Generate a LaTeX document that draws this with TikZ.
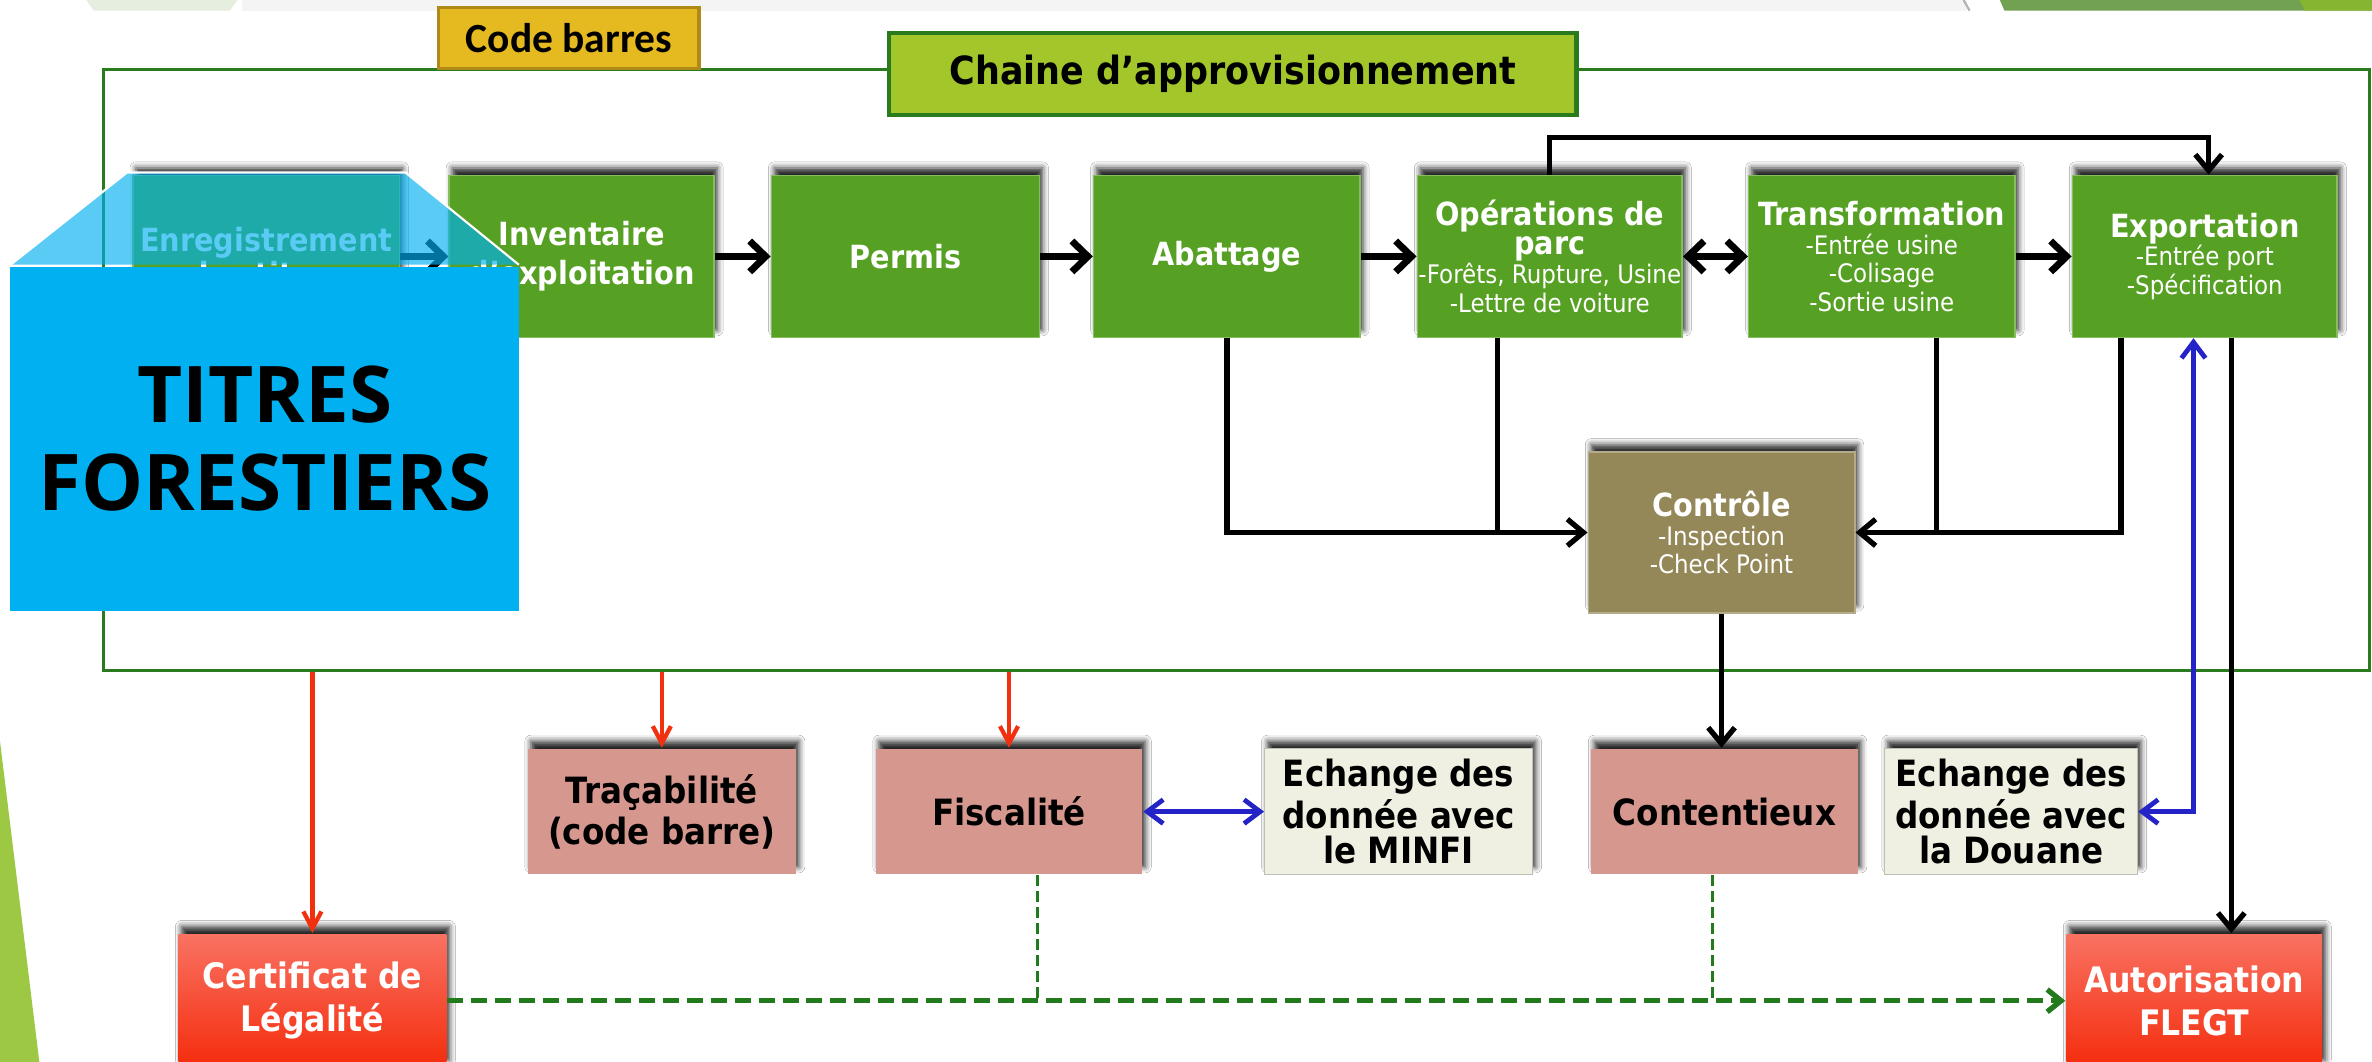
\documentclass[tikz,border=0pt]{standalone}
\usepackage{fontspec}
\setmainfont{DejaVu Sans}
\newfontfamily\ag[FakeStretch=0.9]{DejaVu Sans}
\newfontfamily\osf{Open Sans}
\newfontfamily\calf{Carlito}
\usetikzlibrary{arrows.meta,shadows.blur,calc}
\definecolor{cGreen}{HTML}{56A024}
\definecolor{cGreenEdge}{HTML}{86BD5E}
\definecolor{cFrame}{HTML}{2A7A1E}
\definecolor{cChaine}{HTML}{A3C72A}
\definecolor{cGold}{HTML}{E5B920}
\definecolor{cGoldEdge}{HTML}{B08A18}
\definecolor{cCtrl}{HTML}{948758}
\definecolor{cPink}{HTML}{D6978F}
\definecolor{cCream}{HTML}{EFEFE2}
\definecolor{cRedTop}{HTML}{F97262}
\definecolor{cRedBot}{HTML}{F42C0C}
\definecolor{cBlue}{HTML}{2323C8}
\definecolor{cRed}{HTML}{F0300F}
\definecolor{cDash}{HTML}{237A1C}
\definecolor{cTitres}{HTML}{00B0F0}
\definecolor{cLime}{HTML}{9DC843}
\definecolor{cTopGreen}{HTML}{73A152}
\definecolor{cTopLime}{HTML}{86B52F}
\definecolor{cTopPale}{HTML}{E6EFDF}
\definecolor{cTopGray}{HTML}{F4F4F4}
\newcommand{\bxt}[1]{{\bfseries\fontsize{6}{5.4}\selectfont #1}}
\begin{document}
\begin{tikzpicture}[x=0.01cm,y=-0.01cm,
  shad/.style={blur shadow={shadow xshift=0.02cm, shadow yshift=0.05cm, shadow blur radius=0.04cm, shadow opacity=85}},
  basebox/.style={rectangle, inner sep=0pt, align=center, shad},
  greenbox/.style={basebox, fill=cGreen, draw=cGreenEdge, line width=0.3pt, text=white},
  rowbox/.style={minimum width=1.76cm, minimum height=1.07cm},
  ctrlbox/.style={basebox, fill=cCtrl, draw=cCtrl!70!white, line width=0.3pt, text=white, minimum width=1.76cm, minimum height=1.06cm},
  botbox/.style={basebox, minimum height=0.83cm, text=black, font=\ag\bfseries\fontsize{6.8}{7.7}\selectfont},
  pinkbox/.style={botbox, fill=cPink},
  creambox/.style={botbox, fill=cCream, draw=cCream!80!black, line width=0.2pt},
  redbox/.style={basebox, top color=cRedTop, bottom color=cRedBot, text=white, minimum height=0.88cm, font=\ag\bfseries\fontsize{6.6}{8}\selectfont},
  subfont/.style={font=\ag\fontsize{4.8}{5.4}\selectfont},
  harr/.style={line width=1.3pt, -{Straight Barb[length=3pt,width=5.8pt]}},
  hdbl/.style={line width=1.3pt, {Straight Barb[length=3pt,width=5.8pt]}-{Straight Barb[length=3pt,width=5.8pt]}},
  vline/.style={line width=1pt},
  varr/.style={line width=1pt, -{Straight Barb[length=3pt,width=5pt]}},
  redarr/.style={draw=cRed, line width=0.8pt, -{Straight Barb[length=3.2pt,width=3.4pt]}},
  bluedbl/.style={draw=cBlue, line width=0.9pt, {Straight Barb[length=3pt,width=4.5pt]}-{Straight Barb[length=3pt,width=4.5pt]}},
  dgreen/.style={draw=cDash, line width=1pt, dash pattern=on 3pt off 1.5pt},
  dgreenthin/.style={draw=cDash, line width=0.5pt, dash pattern=on 2pt off 1pt}
]
\useasboundingbox (0,0) rectangle (1568,702);
\clip (0,0) rectangle (1568,702);
\fill[white] (0,0) rectangle (1568,702);
% decorative bits
\fill[cTopGray] (160,0) rectangle (1300,7);
\fill[cTopPale] (57,0) -- (157,0) -- (152,7) -- (62,7) -- cycle;
\fill[cTopGreen] (1322,0) -- (1568,0) -- (1568,7) -- (1325,7) -- cycle;
\fill[cTopLime] (1520,0) -- (1568,0) -- (1568,7) -- (1524,7) -- cycle;
\draw[gray!60, line width=0.4pt] (1298,0) -- (1302,7);
\fill[cLime] (0,490) -- (26,702) -- (0,702) -- cycle;

% frame and labels
\node[draw=cFrame, line width=0.6pt, minimum width=14.97cm, minimum height=3.97cm, inner sep=0pt] (frame) at (817.5,244.5) {};
\node[draw=cGoldEdge, fill=cGold, line width=0.6pt, minimum width=1.72cm, minimum height=0.40cm, inner sep=0pt, font=\calf\bfseries\fontsize{7.8}{9}\selectfont] (code) at (376,25) {Code barres};
\node[draw=cFrame, fill=cChaine, line width=0.8pt, minimum width=4.54cm, minimum height=0.54cm, inner sep=0pt, font=\ag\bfseries\fontsize{7.3}{8}\selectfont] (chaine) at (815,49) {Chaine d’approvisionnement};

% supply chain row
\node[greenbox, rowbox, font=\ag\bfseries\fontsize{6}{6.5}\selectfont] (enr) at (176,169.5) {Enregistrement\\des titres};
\node[greenbox, rowbox, minimum width=1.75cm, font=\ag\bfseries\fontsize{6}{7.4}\selectfont] (inv) at (384.5,169.5) {Inventaire\\d’exploitation};
\node[greenbox, rowbox, minimum width=1.77cm, font=\ag\bfseries\fontsize{6}{7}\selectfont] (perm) at (598.5,169.5) {Permis};
\node[greenbox, rowbox, font=\ag\bfseries\fontsize{6}{7}\selectfont] (abat) at (811,169.5) {Abattage};
\node[greenbox, rowbox, minimum width=1.75cm, subfont] (ops) at (1024.5,169.5) {\bxt{Opérations de}\\\bxt{parc}\\-Forêts, Rupture, Usine\\-Lettre de voiture};
\node[greenbox, rowbox, subfont] (trans) at (1244,169.5) {\bxt{Transformation}\\-Entrée usine\\-Colisage\\-Sortie usine};
\node[greenbox, rowbox, minimum width=1.75cm, subfont] (exp) at (1457.5,169.5) {\bxt{Exportation}\\-Entrée port\\-Spécification};

\node[ctrlbox, subfont] (ctrl) at (1138,352) {\bxt{Contrôle}\\-Inspection\\-Check Point};

% bottom row
\node[pinkbox, minimum width=1.77cm] (trac) at (437.5,536.5) {Traçabilité\\(code barre)};
\node[pinkbox, minimum width=1.76cm] (fisc) at (667,536.5) {Fiscalité};
\node[creambox, minimum width=1.77cm, font=\ag\bfseries\fontsize{6.8}{6.5}\selectfont] (minfi) at (924.5,536.5) {Echange des\\donnée avec\\le MINFI};
\node[pinkbox, minimum width=1.76cm] (cont) at (1140,536.5) {Contentieux};
\node[creambox, minimum width=1.67cm, font=\ag\bfseries\fontsize{6.8}{6.5}\selectfont] (douane) at (1329.5,536.5) {Echange des\\donnée avec\\la Douane};

\node[redbox, minimum width=1.77cm] (cert) at (206.5,661.5) {Certificat de\\Légalité};
\node[redbox, minimum width=1.69cm] (aut) at (1450.5,661.5) {Autorisation\\FLEGT};

% row arrows
\draw[harr] (enr) -- (inv);
\draw[harr] (inv) -- (perm);
\draw[harr] (perm) -- (abat);
\draw[harr] (abat) -- (ops);
\draw[hdbl] (ops) -- (trans);
\draw[harr] (trans) -- (exp);
\coordinate (loop) at (1460,91);
\draw[varr] (ops.north) |- (loop) -- (exp.north -| loop);

% to controle
\coordinate (jl) at (990,352);
\coordinate (jr) at (1280,352);
\coordinate (ex1) at (1402,352);
\coordinate (ex2) at (1475,0);
\coordinate (bx) at (1450,0);
\draw[varr] (abat.south) |- (ctrl.west);
\draw[vline] (ops.south -| jl) -- (jl);
\draw[varr] (exp.south -| ex1) |- (ctrl.east);
\draw[vline] (trans.south -| jr) -- (jr);
\draw[varr] (ctrl.south) -- (ctrl.south |- cont.north);
\draw[varr] (exp.south -| ex2) -- (aut.north -| ex2);
\draw[bluedbl] (douane.east) -| (exp.south -| bx);
\draw[bluedbl] (fisc) -- (minfi);

% red arrows
\draw[redarr] (frame.south -| cert.north) -- (cert.north);
\draw[redarr] (frame.south -| trac.north) -- (trac.north);
\draw[redarr] (frame.south -| fisc.north) -- (fisc.north);

% dashed links
\coordinate (d1) at (686,661.5);
\coordinate (d2) at (1132,661.5);
\draw[dgreen, -{Straight Barb[length=2.6pt,width=4.2pt]}] (cert.east) -- (aut.west);
\draw[dgreenthin] (fisc.south -| d1) -- (d1);
\draw[dgreenthin] (cont.south -| d2) -- (d2);

% titres overlay
\fill[cTitres, fill opacity=0.65] (7,175) -- (84,114) -- (268,114) -- (343,175) -- cycle;
\draw[white, line width=0.4pt] (7,175) -- (84,114) -- (268,114) -- (343,175);
\node[fill=cTitres, minimum width=3.36cm, minimum height=2.27cm, inner sep=0pt, align=center, font=\osf\bfseries\fontsize{14.7}{16.5}\selectfont] (titres) at (175,290) {TITRES\\FORESTIERS};
\end{tikzpicture}
\end{document}
